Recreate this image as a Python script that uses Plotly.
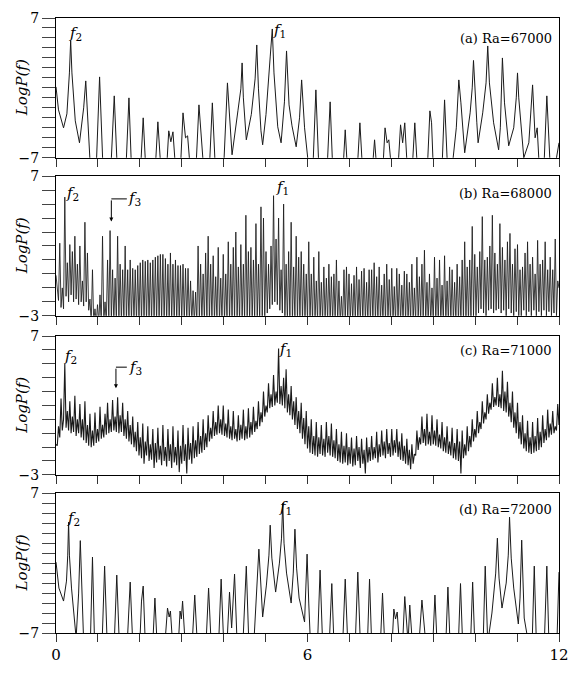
import plotly.graph_objects as go

# ---------------- data ----------------
# Panel (a) Ra=67000 : spectrum vertices (frequency, log power)
a_x = [0.00, 0.06, 0.18, 0.26, 0.32, 0.35, 0.38, 0.46, 0.56, 0.66, 0.71, 0.76, 0.82, 0.96,
       1.04, 1.12, 1.31, 1.39, 1.46, 1.67, 1.74, 1.80, 2.02, 2.08, 2.14, 2.37, 2.43, 2.50,
       2.64, 2.69, 2.74, 2.79, 2.85, 2.97, 3.03, 3.09, 3.14, 3.20, 3.34, 3.41, 3.49, 3.52,
       3.66, 3.73, 3.80, 4.00, 4.09, 4.20, 4.34, 4.41, 4.44, 4.47, 4.54, 4.66, 4.75, 4.79,
       4.83, 4.89, 4.93, 5.01, 5.11, 5.16, 5.20, 5.26, 5.29, 5.37, 5.45, 5.50, 5.56, 5.63,
       5.73, 5.81, 5.86, 5.93, 6.03, 6.13, 6.20, 6.27, 6.47, 6.54, 6.60, 6.85, 6.90, 6.95,
       7.19, 7.25, 7.31, 7.55, 7.60, 7.65, 7.80, 7.85, 7.90, 7.94, 8.00, 8.16, 8.22, 8.27,
       8.32, 8.38, 8.50, 8.56, 8.62, 8.86, 8.92, 8.96, 9.00, 9.21, 9.27, 9.34, 9.45, 9.55,
       9.61, 9.66, 9.75, 9.88, 9.93, 9.96, 9.99, 10.04, 10.07, 10.18, 10.26, 10.30, 10.34,
       10.44, 10.56, 10.60, 10.65, 10.70, 10.80, 10.92, 10.98, 11.01, 11.04, 11.08, 11.16,
       11.28, 11.37, 11.43, 11.48, 11.53, 11.64, 11.71, 11.78, 11.90, 12.00]
a_y = [0.1, -2.2, -4.0, -2.6, 1.5, 4.75, 1.5, -3.3, -5.5, -2.0, 0.7, -3.0, -8, -8,
       1.1, -8, -8, -0.8, -8, -8, -1.0, -8, -8, -3.0, -8, -8, -3.4, -8,
       -8, -4.3, -5.4, -4.4, -8, -8, -2.5, -5.0, -4.8, -8, -8, -1.7, -5.4, -8,
       -8, -1.5, -8, -8, 0.5, -6.7, -2.3, -0.1, 2.5, -1.0, -5.2, -2.65, 0.9, 4.3,
       -0.1, -4.3, -5.7, -2.65, 3.1, 5.9, 1.5, -2.65, -3.9, -5.5, -1.4, 3.7, -1.7, -3.8,
       -5.9, -3.0, 0.8, -4.0, -8, -8, -0.2, -8, -8, -1.4, -8, -8, -4.2, -8,
       -8, -3.5, -8, -8, -5.2, -8, -8, -4.0, -5.5, -5.2, -8, -8, -3.7, -5.5,
       -3.5, -8, -8, -3.5, -8, -8, -2.3, -3.5, -8, -8, -1.2, -8, -8, -4.0,
       0.8, -1.5, -6.5, -2.5, 0.0, 2.75, 0.0, -3.5, -5.5, -2.5, 0.5, 4.2, 0.5,
       -3.5, -6.2, -4.0, 3.0, -1.5, -5.8, -4.0, -1.0, 1.5, -1.0, -3.0, -7.0,
       -5.5, 0.3, -5.0, -4.0, -8, -8, -0.8, -7.0, -8, -5.5]

# Panels (b) and (c): log power sampled every 0.03 in frequency, from f = 0 to 12
freq_step = 0.03
b_y = [
    -0.1, -1.2, -1.9, 2.2, -2.4, -1.0, -2.5, 5.5, -1.6, 0.8,
    -2.0, 2.1, -1.5, 1.6, -2.0, 2.7, -1.8, 0.7, -2.2, 2.0,
    -2.0, -0.5, -2.3, 3.7, -2.0, 1.5, -2.6, -1.8, -3.5, 0.3,
    -3.5, -2.5, -3.5, -2.2, -3.5, -1.5, -3.5, 2.7, -3.5, -2.0,
    -3.5, 1.0, -3.5, 3.1, -3.5, 0.3, -3.5, -0.3, -3.5, 2.7,
    -3.5, 0.7, -3.5, 0.3, -3.5, 2.0, -3.5, 0.3, -3.5, 1.0,
    -3.5, 0.4, -3.5, 0.3, -3.5, 0.6, -3.5, 0.8, -3.5, 1.0,
    -3.5, 0.9, -3.5, 1.0, -3.5, 0.8, -3.5, 1.0, -3.5, 1.2,
    -3.5, 1.3, -3.5, 1.4, -3.5, 1.4, -3.5, 1.1, -3.5, 0.7,
    -3.5, 1.5, -3.5, 0.7, -3.5, 1.0, -3.5, 0.6, -3.5, 0.6,
    -3.5, 0.7, -3.5, 0.4, -3.5, 0.4, -3.5, -0.5, -3.5, -1.2,
    -3.5, -1.3, -3.5, 2.0, -3.5, 0.7, -3.5, 0.0, -3.5, 1.5,
    -3.5, 2.7, -3.5, 0.7, -3.5, 1.3, -3.5, -0.2, -3.5, 1.9,
    -3.5, -0.3, -3.5, 1.4, -3.5, 0.0, -3.5, 2.3, -3.5, 0.7,
    -3.5, 1.9, -3.5, 3.0, -3.5, 0.5, -3.5, 2.1, -3.5, 0.7,
    -3.5, 4.2, -3.5, 1.6, -3.5, 1.9, -3.5, 1.0, -3.5, 3.6,
    -3.5, 0.7, -3.5, 4.8, -3.5, 4.0, -3.5, 1.6, -2.8, 0.7,
    -2.5, 2.0, -2.2, 5.6, -2.0, 2.5, -2.2, 4.0, -2.6, 0.3,
    -2.8, 5.0, -3.5, 0.7, -3.5, 1.6, -3.5, 3.7, -3.5, 0.5,
    -3.5, 2.7, -3.5, 1.2, -3.5, 1.6, -3.5, 0.7, -3.5, 0.0,
    -3.5, 2.3, -3.5, 0.0, -3.5, 1.2, -3.5, -0.5, -3.5, 1.6,
    -3.5, -0.6, -3.5, 0.5, -3.5, -0.3, -3.5, 0.7, -3.5, -0.2,
    -3.5, 0.0, -3.5, 1.0, -3.5, -0.5, -3.5, -1.6, -3.5, 0.3,
    -3.5, 0.5, -3.5, 0.0, -3.5, -0.7, -3.5, -0.1, -3.5, 0.5,
    -3.5, -0.4, -3.5, 0.2, -3.5, 0.4, -3.5, -0.6, -3.5, 0.3,
    -3.5, 0.3, -3.5, 0.8, -3.5, -0.2, -3.5, 0.5, -3.5, -0.8,
    -3.5, 0.0, -3.5, 0.7, -3.5, -0.4, -3.5, 0.4, -3.5, -0.9,
    -3.5, 0.4, -3.5, 0.0, -3.5, -0.8, -3.5, 0.2, -3.5, 0.0,
    -3.5, -0.6, -3.5, 0.7, -3.5, -1.0, -3.5, 1.2, -3.5, -0.2,
    -3.5, 0.7, -3.5, 1.7, -3.5, -0.6, -3.5, 0.0, -3.5, -1.0,
    -3.5, 1.2, -3.5, -0.3, -3.5, 1.0, -3.5, -0.8, -3.5, 1.3,
    -3.5, -0.5, -3.5, 0.5, -3.5, 0.3, -3.5, -0.6, -3.5, 0.7,
    -3.5, -0.2, -3.5, 1.0, -3.5, 2.3, -3.5, 0.5, -3.5, 1.0,
    -3.5, 3.4, -3.0, 1.4, -3.0, 0.5, -2.8, 1.6, -2.5, 4.1,
    -2.8, 1.0, -3.0, 1.2, -2.6, 2.0, -2.5, 4.2, -2.8, 1.5,
    -2.6, 0.7, -2.5, 3.6, -2.8, 1.9, -2.6, 1.0, -3.0, 2.3,
    -2.5, 2.9, -2.8, 0.7, -3.0, 1.8, -2.7, 2.1, -3.0, 0.3,
    -3.0, 0.5, -2.6, 1.5, -3.0, 2.3, -2.7, 0.7, -3.0, 1.2,
    -2.6, 0.0, -3.0, 2.4, -2.7, 0.7, -3.0, 1.0, -2.6, 2.3,
    -3.0, 0.3, -2.7, 1.2, -3.0, 0.3, -2.8, 2.5, -3.0, -0.5,
    -1.0]
c_y = [
    -0.8, -0.9, 0.5, -0.3, 2.5, 0.2, 1.0, 5.0, 0.4, 1.6,
    0.2, 2.3, 0.0, 1.2, 0.1, 2.7, -0.2, 1.0, 0.0, 2.1,
    -0.3, 1.0, -0.5, 2.3, -0.7, 0.6, -0.9, 1.4, -1.0, 0.2,
    -0.9, 1.5, -0.7, 0.3, -0.6, 1.9, -0.4, 0.6, -0.3, 1.4,
    -0.1, 2.2, 0.0, 1.0, 0.1, 2.4, 0.2, 1.2, 0.1, 2.6,
    0.0, 1.3, 0.1, 2.2, -0.2, 1.0, -0.4, 1.6, -0.6, 0.6,
    -0.8, 1.2, -1.0, 0.1, -1.3, 0.8, -1.6, -0.3, -1.8, 0.7,
    -2.2, -0.6, -1.6, 0.5, -2.0, -0.8, -1.9, 0.3, -2.5, -0.7,
    -2.1, 0.4, -1.9, -0.9, -2.3, 0.6, -2.0, -1.0, -2.4, 0.3,
    -2.0, -0.8, -2.5, 0.5, -2.1, -1.0, -2.3, 0.2, -2.8, -0.9,
    -2.2, 0.6, -2.0, -0.8, -2.9, 0.4, -1.9, -0.7, -2.2, 0.5,
    -1.8, -0.5, -1.7, 0.8, -1.5, -0.2, -1.4, 1.0, -1.2, 0.0,
    -1.0, 1.3, -0.6, 0.4, -0.4, 1.6, -0.2, 0.8, -0.1, 2.0,
    0.0, 1.0, -0.1, 2.0, -0.2, 0.7, -0.3, 1.7, -0.4, 0.5,
    -0.5, 1.6, -0.4, 0.3, -0.6, 1.3, -0.5, 0.6, -0.4, 1.7,
    -0.5, 0.5, -0.4, 1.8, -0.3, 0.8, -0.1, 1.9, 0.1, 0.9,
    0.3, 2.3, 0.5, 1.5, 0.8, 3.0, 1.2, 2.0, 1.5, 3.6,
    1.8, 2.8, 1.9, 4.2, 2.0, 3.0, 2.2, 6.1, 2.1, 3.4,
    2.0, 4.0, 1.8, 4.6, 1.5, 2.8, 1.3, 3.4, 1.0, 2.3,
    0.6, 2.6, 0.3, 1.6, 0.0, 2.2, -0.4, 1.1, -0.8, 1.6,
    -1.1, 0.5, -1.4, 1.0, -1.5, -0.2, -1.6, 0.8, -1.7, -0.3,
    -1.5, 0.6, -1.6, -0.4, -1.7, 0.8, -1.4, -0.2, -1.6, 0.7,
    -1.7, -0.5, -1.8, 0.3, -2.0, -0.8, -2.1, 0.1, -2.2, -0.9,
    -2.1, 0.0, -2.3, -1.0, -2.2, -0.3, -2.4, -1.1, -2.3, -0.2,
    -2.0, -1.0, -2.5, -0.4, -2.2, -1.2, -2.9, -0.3, -2.1, -1.0,
    -2.0, -0.2, -1.9, -1.0, -1.8, 0.1, -2.1, -0.8, -1.7, 0.2,
    -1.6, -0.6, -1.8, 0.3, -1.5, -0.7, -1.7, 0.3, -1.6, -0.5,
    -1.4, 0.3, -1.7, -0.6, -1.9, 0.0, -2.0, -0.9, -2.2, -0.4,
    -2.3, -1.2, -2.6, -0.8, -2.2, -1.5, -1.6, 0.2, -1.2, -0.3,
    -0.8, 1.2, -0.7, 0.3, -0.9, 1.4, -0.8, 0.1, -0.9, 1.3,
    -0.8, 0.2, -0.9, 1.0, -1.0, -0.1, -1.1, 0.8, -1.3, -0.3,
    -1.4, 0.5, -1.5, -0.6, -1.6, 0.4, -1.8, -0.7, -1.9, 0.3,
    -2.0, -0.6, -2.9, 0.2, -1.8, -0.8, -1.6, 0.5, -1.3, -0.2,
    -1.0, 1.0, -0.6, 0.3, -0.3, 1.6, 0.0, 0.8, 0.3, 2.3,
    0.7, 1.5, 1.0, 2.8, 1.4, 2.2, 1.7, 3.6, 1.9, 2.6,
    2.0, 4.0, 1.9, 2.8, 1.8, 4.5, 1.6, 3.0, 1.5, 3.7,
    1.2, 2.2, 0.8, 3.0, 0.4, 1.5, 0.0, 2.2, -0.4, 0.8,
    -0.8, 1.3, -1.1, 0.0, -1.3, 0.9, -1.4, -0.3, -1.5, 0.8,
    -1.4, -0.2, -1.3, 1.1, -1.2, 0.1, -1.0, 1.3, -0.7, 0.3,
    -0.5, 1.7, -0.3, 0.7, -0.1, 1.6, 0.0, 0.5, 0.2, 2.1,
    0.6]

# Panel (d) Ra=72000 : spectrum vertices
d_x = [0.00, 0.07, 0.18, 0.25, 0.28, 0.30, 0.32, 0.37, 0.48, 0.54, 0.58, 0.62, 0.66, 0.82,
       0.87, 0.92, 1.10, 1.16, 1.22, 1.39, 1.45, 1.51, 1.70, 1.77, 1.83, 2.00, 2.04, 2.08,
       2.13, 2.31, 2.36, 2.41, 2.60, 2.66, 2.70, 2.73, 2.78, 2.92, 2.96, 2.99, 3.02, 3.08,
       3.25, 3.31, 3.37, 3.58, 3.64, 3.70, 3.88, 3.94, 4.00, 4.08, 4.14, 4.19, 4.26, 4.32,
       4.46, 4.54, 4.60, 4.72, 4.84, 4.93, 5.02, 5.08, 5.11, 5.15, 5.24, 5.33, 5.38, 5.41,
       5.44, 5.50, 5.61, 5.66, 5.70, 5.74, 5.80, 5.93, 5.96, 5.99, 6.03, 6.07, 6.24, 6.30,
       6.36, 6.52, 6.58, 6.63, 6.84, 6.90, 6.96, 7.14, 7.20, 7.26, 7.43, 7.48, 7.53, 7.74,
       7.79, 7.84, 8.02, 8.06, 8.10, 8.14, 8.19, 8.27, 8.32, 8.38, 8.40, 8.44, 8.50, 8.66,
       8.73, 8.80, 8.86, 8.99, 9.04, 9.09, 9.30, 9.35, 9.40, 9.60, 9.65, 9.70, 9.89, 9.94,
       9.99, 10.19, 10.24, 10.30, 10.40, 10.49, 10.53, 10.57, 10.64, 10.74, 10.79, 10.82,
       10.86, 10.92, 11.03, 11.07, 11.11, 11.17, 11.22, 11.27, 11.36, 11.41, 11.46, 11.65,
       11.71, 11.76, 11.95, 12.00]
d_y = [0.1, -2.5, -3.8, -1.8, 0.8, 4.1, 0.8, -2.5, -7.5, -3.0, 2.25, -3.0, -8, -8,
       0.6, -8, -8, -0.3, -8, -8, -1.2, -8, -8, -1.9, -8, -8, -3.8, -2.3,
       -8, -8, -3.5, -8, -8, -4.5, -5.4, -4.8, -8, -8, -4.8, -5.6, -3.8, -8,
       -8, -3.2, -8, -8, -2.5, -8, -8, -1.6, -8, -8, -2.9, -6.5, -1.1, -8,
       -8, -0.3, -8, -8, 1.4, -5.4, -2.2, 0.8, 3.8, 0.5, -2.9, 0.0, 2.5, 6.0,
       2.0, -1.0, -4.0, -1.0, 3.4, -0.5, -3.5, -5.9, -3.0, 0.9, -4.0, -8, -8, -0.7,
       -8, -8, -2.05, -8, -8, -1.6, -8, -8, -0.9, -8, -8, -1.6, -8, -8,
       -3.0, -8, -8, -4.6, -5.6, -4.9, -8, -8, -3.35, -8, -8, -4.2, -8, -8,
       -3.7, -7.0, -8, -8, -3.2, -8, -8, -2.4, -8, -8, -2.05, -8, -8, -1.9,
       -8, -8, -0.3, -8, -5.0, -1.0, 2.5, -1.5, -4.5, -2.0, 0.8, 4.6,
       0.5, -2.5, -6.1, -3.5, 2.3, -5.5, -6.5, -8, -8, -0.3, -8, -8,
       -0.3, -8, -8, -0.9]

panel_labels = ["(a) Ra=67000", "(b) Ra=68000", "(c) Ra=71000", "(d) Ra=72000"]
y_ranges = [(-7, 7), (-3, 7), (-3, 7), (-7, 7)]
x_tick_values = list(range(0, 13))
x_tick_labels = ["0", "", "", "", "", "", "6", "", "", "", "", "", "12"]

# ---------------- figure ----------------
b_x = [round(i * freq_step, 2) for i in range(len(b_y))]
c_x = [round(i * freq_step, 2) for i in range(len(c_y))]
series = [(a_x, a_y), (b_x, b_y), (c_x, c_y), (d_x, d_y)]
widths = [1.0, 0.85, 1.1, 1.0]

domains = [(0.7727, 1.0), (0.5157, 0.7429), (0.2571, 0.4828), (0.0, 0.2273)]
FONT = "DejaVu Serif"
LINE = "#1a1a1a"

fig = go.Figure()
layout = dict(
    width=579, height=674,
    margin=dict(l=56, r=18, t=10, b=26),
    paper_bgcolor="white", plot_bgcolor="white",
    showlegend=False,
    font=dict(family=FONT, size=14, color="black"),
)

annotations = []
shapes = []
for i, ((xs, ys), dom, yr, lab) in enumerate(zip(series, domains, y_ranges, panel_labels)):
    n = "" if i == 0 else str(i + 1)
    xa, ya = "x" + n, "y" + n
    fig.add_trace(go.Scatter(x=xs, y=ys, mode="lines", xaxis=xa, yaxis=ya,
                             line=dict(color=LINE, width=widths[i]), hoverinfo="skip"))
    bottom = (i == 3)
    layout["xaxis" + n] = dict(
        domain=[0, 1], anchor=ya, range=[0, 12], showgrid=False, zeroline=False,
        showline=True, mirror=True, linecolor="black", linewidth=1,
        ticks="outside", ticklen=8, tickwidth=1, tickcolor="#333",
        tickmode="array", tickvals=x_tick_values, ticktext=x_tick_labels,
        showticklabels=bottom, tickfont=dict(family=FONT, size=15),
    )
    yt = list(range(yr[0], yr[1] + 1))
    ytxt = [("\u2212" + str(-v) if v < 0 else str(v)) if v in yr else "" for v in yt]
    layout["yaxis" + n] = dict(
        domain=list(dom), anchor=xa, range=list(yr), showgrid=False, zeroline=False,
        showline=True, mirror=True, linecolor="black", linewidth=1,
        ticks="outside", ticklen=13, tickwidth=1, tickcolor="#444",
        tickmode="array", tickvals=yt, ticktext=ytxt,
        tickfont=dict(family=FONT, size=14),
    )
    # y title
    annotations.append(dict(
        text="<i>LogP(f)</i>", xref="paper", yref="paper", x=-0.067,
        y=(dom[0] + dom[1]) / 2, textangle=-90, showarrow=False,
        font=dict(family=FONT, size=15), xanchor="center", yanchor="middle"))
    # panel label
    annotations.append(dict(
        text=lab, xref="paper", yref=ya, x=0.99, y=[4.97, 5.74, 5.96, 5.36][i],
        showarrow=False, xanchor="right", yanchor="middle",
        font=dict(family=FONT, size=13)))

# frequency labels f1, f2, f3
flabels = [
    ("y", 0.46, 5.45, "2"), ("y", 5.34, 5.75, "1"),
    ("y2", 0.39, 5.76, "2"), ("y2", 5.41, 6.17, "1"),
    ("y3", 0.34, 5.54, "2"), ("y3", 5.47, 6.03, "1"),
    ("y4", 0.41, 4.49, "2"), ("y4", 5.47, 5.55, "1"),
]
for ya, fx, fy, s in flabels:
    xa = "x" + ya[1:]
    annotations.append(dict(
        text="<i>f</i><sub>" + s + "</sub>", xref=xa, yref=ya, x=fx, y=fy,
        showarrow=False, xanchor="center", yanchor="middle",
        font=dict(family=FONT, size=15)))

# f3 markers with bent arrows (panels b and c)
f3_marks = [("x2", "y2", 1.32, 5.37, 3.75, 1.69, 1.88), ("x3", "y3", 1.43, 4.76, 3.25, 1.69, 1.90)]
for xa, ya, xs0, ytop, ytip, xend, xlab in f3_marks:
    shapes.append(dict(type="line", xref=xa, yref=ya, x0=xs0, x1=xend, y0=ytop, y1=ytop,
                       line=dict(color="black", width=1)))
    annotations.append(dict(
        text="", xref=xa, yref=ya, x=xs0, y=ytip, axref=xa, ayref=ya, ax=xs0, ay=ytop,
        showarrow=True, arrowhead=2, arrowsize=0.8, arrowwidth=1, arrowcolor="black",
        standoff=0, startstandoff=0))
    annotations.append(dict(
        text="<i>f</i><sub>3</sub>", xref=xa, yref=ya, x=xlab, y=ytop,
        showarrow=False, xanchor="center", yanchor="middle",
        font=dict(family=FONT, size=15)))

layout["annotations"] = annotations
layout["shapes"] = shapes
fig.update_layout(**layout)
fig.write_html("out.html")
